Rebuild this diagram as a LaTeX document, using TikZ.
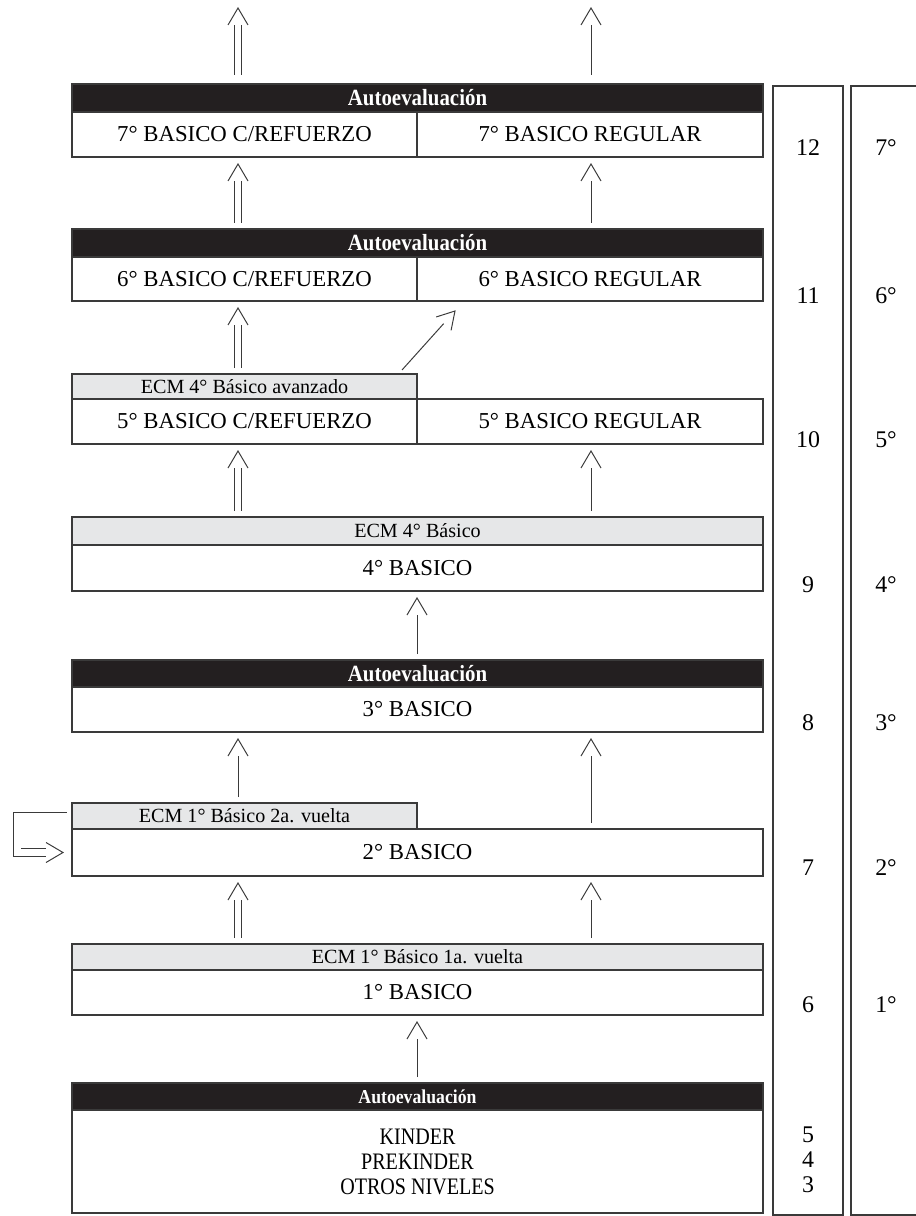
\documentclass[tikz,border=0pt]{standalone}
\usepackage{fontspec}
\setmainfont{Liberation Serif}
\usetikzlibrary{arrows.meta}

\definecolor{linecol}{HTML}{3A3A3A}
\definecolor{barblack}{HTML}{231F20}
\definecolor{bargrey}{HTML}{E6E7E8}

% open chevron tip, the shaft stops at its back
\pgfdeclarearrow{
  name = Chevron,
  parameters = {\the\pgfarrowlength,\the\pgfarrowwidth},
  setup code = {
    \pgfarrowssettipend{0pt}
    \pgfarrowssetlineend{-\pgfarrowlength}
    \pgfarrowssetbackend{-\pgfarrowlength}
    \pgfarrowssavethe\pgfarrowlength
    \pgfarrowssavethe\pgfarrowwidth
  },
  drawing code = {
    \pgfsetdash{}{0pt}
    \pgfsetlinewidth{0.7pt}
    \pgfsetmiterjoin
    \pgfpathmoveto{\pgfqpoint{-\pgfarrowlength}{.5\pgfarrowwidth}}
    \pgfpathlineto{\pgfpointorigin}
    \pgfpathlineto{\pgfqpoint{-\pgfarrowlength}{-.5\pgfarrowwidth}}
    \pgfusepathqstroke
  },
  defaults = {length=4.25mm, width=5mm}
}

\newcommand{\bodyfont}{\fontsize{16.2}{17.8}\selectfont}
\newcommand{\tabfont}{\fontsize{14.3}{16}\selectfont}
\newcommand{\hdtext}[1]{\fontsize{16.5}{18}\selectfont\bfseries\scalebox{.9}[1]{#1}}
\newcommand{\hdsmall}[1]{\fontsize{14}{16}\selectfont\bfseries\scalebox{.9}[1]{#1}}
\newcommand{\cond}[1]{\scalebox{.85}[1]{#1}}

\tikzset{
  box/.style={draw=linecol, line width=0.9pt, anchor=north west, inner sep=0pt,
    outer sep=0pt, font=\bodyfont},
  blackbar/.style={box, fill=barblack, text=white},
  greybar/.style={box, fill=bargrey, font=\tabfont},
  sgl/.style={draw=linecol, line width=0.7pt, -{Chevron}, shorten >=1.75mm, shorten <=1.5mm},
  dbl/.style={sgl, double, double distance=1.45mm},
  num/.style={font=\fontsize{17}{18}\selectfont, inner sep=0pt}
}

\begin{document}
\begin{tikzpicture}[x=0.25mm, y=-0.25mm]
  \useasboundingbox (0,0) rectangle (915,1216);

  % columns of the arrows
  \coordinate (lx) at (238,0);
  \coordinate (rx) at (591,0);
  \coordinate (mx) at (417,0);

  % 7th grade
  \node[blackbar, minimum width=172.75mm, minimum height=7mm] (h7) at (72,84) {\hdtext{Autoevaluación}};
  \node[box, minimum width=86.25mm, minimum height=11.25mm] (b7L) at (72,112) {7° BASICO C/REFUERZO};
  \node[box, minimum width=86.5mm, minimum height=11.25mm] (b7R) at (417,112) {7° BASICO REGULAR};

  % 6th grade
  \node[blackbar, minimum width=172.75mm, minimum height=7mm] (h6) at (72,229) {\hdtext{Autoevaluación}};
  \node[box, minimum width=86.25mm, minimum height=11mm] (b6L) at (72,257) {6° BASICO C/REFUERZO};
  \node[box, minimum width=86.5mm, minimum height=11mm] (b6R) at (417,257) {6° BASICO REGULAR};

  % 5th grade
  \node[greybar, minimum width=86.25mm, minimum height=6.25mm] (tab5) at (72,374) {ECM 4° Básico avanzado};
  \node[box, minimum width=86.25mm, minimum height=11.25mm] (b5L) at (72,399) {5° BASICO C/REFUERZO};
  \node[box, minimum width=86.5mm, minimum height=11.25mm] (b5R) at (417,399) {5° BASICO REGULAR};

  % 4th grade
  \node[greybar, minimum width=172.75mm, minimum height=7mm] (h4) at (72,517) {ECM 4° Básico};
  \node[box, minimum width=172.75mm, minimum height=11.5mm] (b4) at (72,545) {4° BASICO};

  % 3rd grade
  \node[blackbar, minimum width=172.75mm, minimum height=6.75mm] (h3) at (72,660) {\hdtext{Autoevaluación}};
  \node[box, minimum width=172.75mm, minimum height=11.25mm] (b3) at (72,687) {3° BASICO};

  % 2nd grade
  \node[greybar, minimum width=86.25mm, minimum height=6.5mm] (tab2) at (72,803) {ECM 1° Básico 2a. vuelta};
  \node[box, minimum width=172.75mm, minimum height=11.75mm] (b2) at (72,829) {2° BASICO};

  % 1st grade
  \node[greybar, minimum width=172.75mm, minimum height=6.5mm] (h1) at (72,944) {ECM 1° Básico 1a. vuelta};
  \node[box, minimum width=172.75mm, minimum height=11.25mm] (b1) at (72,970) {1° BASICO};

  % kinder and below
  \node[blackbar, minimum width=172.75mm, minimum height=6.75mm] (hK) at (72,1083) {\hdsmall{Autoevaluación}};
  \node[box, minimum width=172.75mm, minimum height=25.75mm, align=center,
    font=\fontsize{16.8}{17.8}\selectfont] (bK) at (72,1110)
    {\cond{KINDER}\\\cond{PREKINDER}\\\cond{OTROS NIVELES}};

  % side columns
  \node[box, minimum width=17.5mm, minimum height=282.25mm] (colA) at (773,86) {};
  \node[box, minimum width=19mm, minimum height=282.25mm] (colB) at (851,86) {};
  \foreach \n/\g/\y in {12/7/148, 11/6/296, 10/5/440, 9/4/585, 8/3/723, 7/2/868, 6/1/1005} {
    \node[num] (age\n) at (808,\y) {\n};
    \node[num] (grade\g) at (886,\y) {\g°};
  }
  \node[num, align=center, font=\fontsize{17}{17.8}\selectfont] (ageK) at (808,1160) {5\\4\\3};

  % arrows going up
  \coordinate (top7L) at (238,8);
  \coordinate (top7R) at (591,8);
  \draw[dbl, shorten >=0mm, shorten <=2.25mm] (h7.north -| lx) -- (top7L);
  \draw[sgl, shorten >=0mm, shorten <=2.25mm] (h7.north -| rx) -- (top7R);

  \draw[dbl] (h6.north -| lx) -- (b7L.south -| lx);
  \draw[sgl] (h6.north -| rx) -- (b7R.south -| rx);

  \draw[dbl] (tab5.north -| lx) -- (b6L.south -| lx);
  \coordinate (diag) at (455,311);
  \draw[sgl, shorten >=0mm, shorten <=0mm] ([xshift=-3.75mm,yshift=1mm]tab5.north east) -- (diag);

  \draw[dbl] (h4.north -| lx) -- (b5L.south -| lx);
  \draw[sgl] (h4.north -| rx) -- (b5R.south -| rx);

  \draw[sgl] (h3.north -| mx) -- (b4.south -| mx);

  \draw[sgl] (tab2.north -| lx) -- (b3.south -| lx);
  \draw[sgl] (b2.north -| rx) -- (b3.south -| rx);

  \draw[dbl] (h1.north -| lx) -- (b2.south -| lx);
  \draw[sgl] (h1.north -| rx) -- (b2.south -| rx);

  \draw[sgl] (hK.north -| mx) -- (b1.south -| mx);

  % repeat loop of 2nd grade
  \draw[dbl, double distance=1.75mm, shorten <=1.25mm, shorten >=2.25mm] (tab2.west) -- ++(-55,0) |- (b2.west);
\end{tikzpicture}
\end{document}
